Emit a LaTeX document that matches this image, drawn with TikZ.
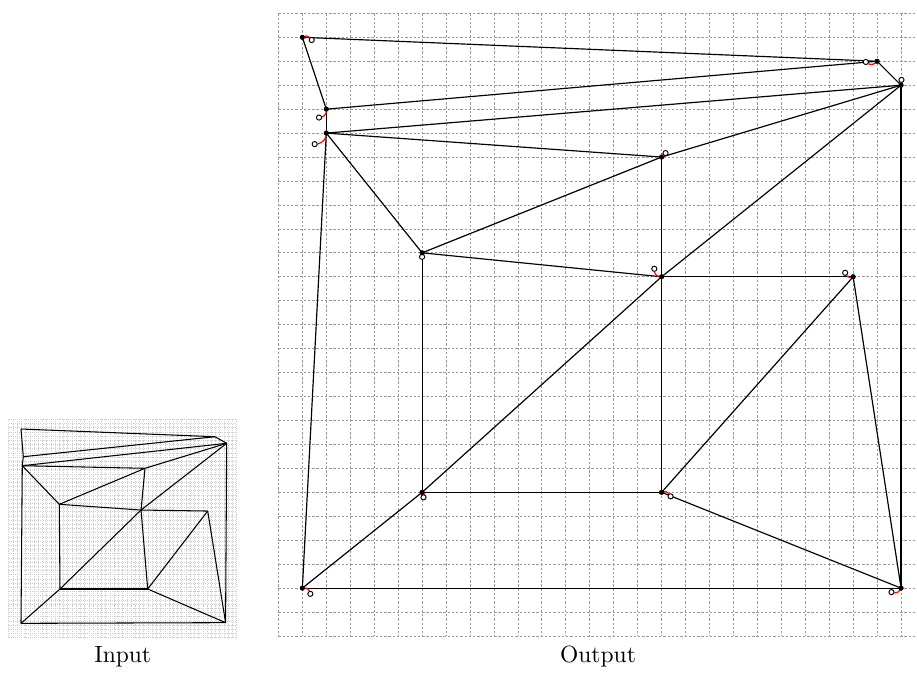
\documentclass[tikz,border=0pt]{standalone}
\begin{document}
\begin{tikzpicture}[x=0.4255pt,y=-0.4255pt,
  ogrid/.style={gray!80, line width=0.3pt, dash pattern=on 1pt off 0.8pt},
  igrid/.style={gray!40, line width=0.25pt, dash pattern=on 0.45pt off 0.45pt},
  edge/.style={black, line width=0.5pt},
  iedge/.style={black, line width=0.45pt},
  vdot/.style={circle, fill=black, inner sep=0pt, minimum size=2.1pt},
  ring/.style={circle, draw=black, fill=white, line width=0.4pt, inner sep=0pt, minimum size=2.2pt},
  markarc/.style={red, line width=0.5pt},
  lab/.style={anchor=base, font=\normalsize}
]
\useasboundingbox (0,0) rectangle (917,673);

% ---------------- Input ----------------
\begin{scope}[shift={(8.7,419.3)}, x=3.591pt, y=-3.574pt]
  \foreach \k in {0,0.5,...,27.01} \draw[igrid] (\k,0) -- (\k,26);
  \foreach \k in {0,0.5,...,26.01} \draw[igrid] (0,\k) -- (27,\k);
  \coordinate (iA) at (1.457,1.155);
  \coordinate (iB) at (1.730,4.452);
  \coordinate (iC) at (1.611,5.524);
  \coordinate (iD) at (24.44,2.071);
  \coordinate (iE) at (25.83,2.857);
  \coordinate (iF) at (16.15,5.833);
  \coordinate (iG) at (5.995,10.12);
  \coordinate (iH) at (15.68,10.80);
  \coordinate (iI) at (23.58,10.92);
  \coordinate (iJ) at (6.078,20.20);
  \coordinate (iK) at (16.47,20.20);
  \coordinate (iL) at (1.457,24.29);
  \coordinate (iM) at (25.70,24.21);
  \foreach \u/\v in {iA/iB,iA/iD,iB/iC,iB/iD,iC/iE,iC/iF,iC/iG,iC/iL,iD/iE,iE/iF,iE/iH,iE/iM,
                     iF/iG,iF/iH,iG/iH,iG/iJ,iH/iI,iH/iJ,iH/iK,iI/iK,iI/iM,iJ/iK,iJ/iL,iK/iM,iL/iM}
    \draw[iedge] (\u) -- (\v);
\end{scope}
\node[lab] (inlabel) at (122.7,662) {Input};

% ---------------- Output ----------------
\begin{scope}[shift={(278.4,13.35)}, x=10.19pt, y=-10.19pt]
  \begin{scope}
    \clip (-0.1,-0.1) rectangle (27,26.1);
    \foreach \k in {0,...,27} \draw[ogrid] (\k,0) -- (\k,26);
    \foreach \k in {0,...,26} \draw[ogrid] (0,\k) -- (27,\k);
  \end{scope}
  \node[vdot] (A) at (1,1) {};
  \node[vdot] (B) at (2,4) {};
  \node[vdot] (C) at (2,5) {};
  \node[vdot] (D) at (25,2) {};
  \node[vdot] (E) at (26,3) {};
  \node[vdot] (F) at (16,6) {};
  \node[vdot] (G) at (6,10) {};
  \node[vdot] (H) at (16,11) {};
  \node[vdot] (I) at (24,11) {};
  \node[vdot] (J) at (6,20) {};
  \node[vdot] (K) at (16,20) {};
  \node[vdot] (L) at (1,24) {};
  \node[vdot] (M) at (26,24) {};
  \foreach \u/\v in {A/B,A/D,B/C,B/D,C/E,C/F,C/G,C/L,D/E,E/F,E/H,E/M,
                     F/G,F/H,G/H,G/J,H/I,H/J,H/K,I/K,I/M,J/K,J/L,K/M,L/M}
    \draw[edge] (\u.center) -- (\v.center);
  % markers
  \foreach \n/\dx/\dy in {A/4.0/-1.15, B/-3.1/-3.57, C/-4.94/-4.68, D/-4.81/-0.3,
                          E/0.17/2.26, F/1.7/1.7, G/0/-1.7, H/-3.1/3.4, I/-3.4/1.7,
                          J/0.6/-2.13, K/3.83/-1.7, L/3.4/-2.43, M/-4.08/-1.7}{
    \node[ring] (r\n) at ([xshift=\dx pt, yshift=\dy pt]\n.center) {};
    \draw[markarc] (r\n) to[bend right=40] (\n.center);
    \node[vdot] at (\n.center) {};
  }
\end{scope}
\node[lab] (outlabel) at (598,662) {Output};
\end{tikzpicture}
\end{document}
